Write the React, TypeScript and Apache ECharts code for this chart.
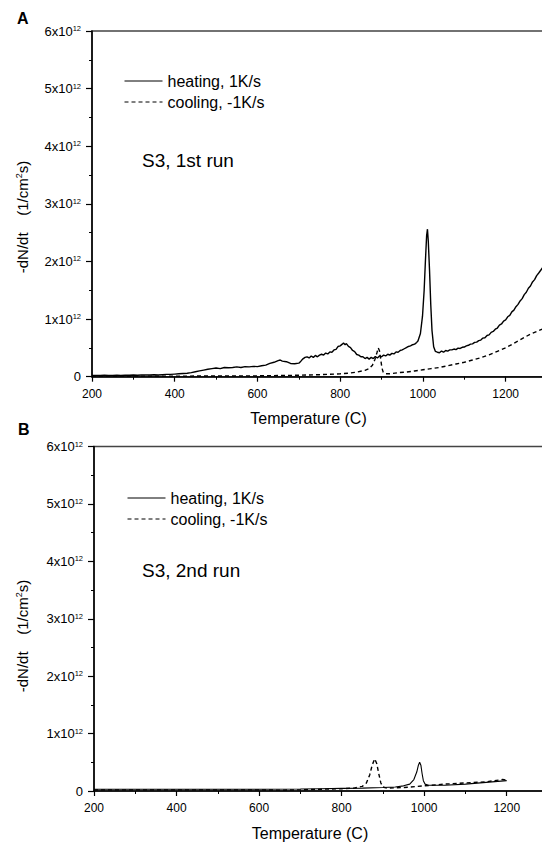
import React, { useEffect, useRef } from "react";
import * as echarts from "echarts";

// Panel A (1st run), values in units of 10^12 1/(cm^2 s)
const heatA_T = [200,210,220,230,240,250,260,270,280,290,300,310,320,330,340,350,360,370,380,390,400,410,420,430,440,450,460,470,480,490,500,510,520,530,540,550,560,570,580,590,600,610,620,630,640,650,655,660,670,680,690,700,705,710,715,720,725,730,735,740,745,750,755,760,765,770,775,780,785,790,795,800,805,808,812,815,820,825,830,835,840,845,850,855,860,865,870,875,880,885,890,895,900,905,910,915,920,925,930,935,940,945,950,955,960,965,970,975,980,985,988,994,999,1003,1006,1009,1011,1013,1016,1019,1022,1026,1030,1035,1040,1045,1050,1055,1060,1065,1070,1075,1080,1085,1090,1095,1100,1105,1110,1115,1120,1125,1130,1135,1140,1145,1150,1155,1160,1165,1170,1175,1180,1185,1190,1195,1200,1205,1210,1215,1220,1225,1230,1235,1240,1245,1250,1255,1260,1265,1270,1275,1280,1290,1300];
const heatA_V = [0.02,0.02,0.02,0.025,0.02,0.02,0.025,0.02,0.025,0.025,0.03,0.025,0.03,0.03,0.03,0.035,0.03,0.035,0.04,0.04,0.045,0.05,0.055,0.06,0.07,0.085,0.1,0.115,0.13,0.14,0.15,0.14,0.16,0.155,0.16,0.17,0.16,0.175,0.17,0.18,0.175,0.19,0.2,0.23,0.25,0.28,0.29,0.27,0.26,0.23,0.225,0.235,0.27,0.31,0.335,0.345,0.325,0.36,0.335,0.37,0.345,0.375,0.39,0.375,0.41,0.395,0.43,0.425,0.465,0.475,0.525,0.535,0.565,0.585,0.555,0.575,0.525,0.505,0.455,0.435,0.385,0.375,0.345,0.345,0.315,0.335,0.305,0.335,0.315,0.35,0.325,0.36,0.345,0.375,0.36,0.39,0.375,0.405,0.395,0.43,0.425,0.455,0.465,0.485,0.505,0.525,0.535,0.555,0.565,0.595,0.62,0.75,1.05,1.5,2.0,2.45,2.56,2.35,1.85,1.25,0.8,0.52,0.44,0.425,0.415,0.445,0.425,0.455,0.445,0.465,0.465,0.48,0.47,0.495,0.49,0.51,0.515,0.535,0.545,0.565,0.57,0.595,0.6,0.625,0.635,0.67,0.675,0.715,0.725,0.77,0.785,0.825,0.845,0.895,0.915,0.965,0.985,1.04,1.065,1.125,1.155,1.215,1.255,1.315,1.355,1.425,1.465,1.535,1.575,1.645,1.685,1.755,1.8,1.9,2.0];

const coolA_T = [200,300,400,500,600,650,700,750,800,820,840,860,870,878,884,889,892,895,898,901,904,910,920,940,960,980,1000,1020,1040,1060,1080,1100,1120,1140,1160,1180,1200,1220,1240,1260,1280,1300];
const coolA_V = [0.01,0.01,0.01,0.012,0.015,0.02,0.025,0.035,0.05,0.06,0.08,0.11,0.14,0.2,0.3,0.42,0.5,0.45,0.3,0.15,0.08,0.05,0.05,0.07,0.08,0.1,0.12,0.14,0.16,0.19,0.22,0.25,0.29,0.33,0.38,0.44,0.5,0.58,0.66,0.74,0.8,0.86];

// Panel B (2nd run)
const heatB_T = [200,300,400,500,600,700,750,800,850,900,930,950,965,975,982,986,989,992,995,998,1002,1010,1050,1100,1150,1200];
const heatB_V = [0.03,0.03,0.03,0.03,0.03,0.035,0.04,0.045,0.05,0.06,0.07,0.09,0.12,0.2,0.33,0.45,0.5,0.45,0.3,0.18,0.12,0.1,0.1,0.12,0.15,0.18];

const coolB_T = [200,300,400,500,600,650,700,750,800,830,850,860,868,874,880,885,890,895,900,910,950,1000,1050,1100,1150,1190,1200];
const coolB_V = [0.02,0.02,0.02,0.02,0.02,0.015,0.02,0.03,0.04,0.05,0.08,0.14,0.28,0.45,0.56,0.48,0.3,0.14,0.07,0.05,0.06,0.09,0.12,0.14,0.16,0.2,0.19];

const seriesNames = ["heating, 1K/s", "cooling, -1K/s"];
const runLabels = ["S3, 1st run", "S3, 2nd run"];
const panelLetters = ["A", "B"];
const yNameText = "-dN/dt    (1/cm{sup|2}s)";
const xNameText = "Temperature (C)";

const FONT = "'Liberation Sans', Arial, sans-serif";

const zip = (t: number[], v: number[]) => t.map((x, i) => [x, v[i]]);

export default function App() {
  const ref = useRef<HTMLDivElement>(null);
  useEffect(() => {
    if (!ref.current) return;
    const chart = echarts.init(ref.current, null, { renderer: "svg" });
    const W = 560;
    const grids = [
      { left: 92, right: W - 547, top: 31, height: 345.7 },
      { left: 94, right: W - 548, top: 446.5, height: 344.5 },
    ];
    const xAxisFor = (gi: number) => ({
      type: "value",
      gridIndex: gi,
      min: 200,
      max: 1300,
      interval: 200,
      name: xNameText,
      nameLocation: "middle",
      nameGap: 34,
      nameTextStyle: { fontFamily: FONT, fontSize: 16, color: "#000", padding: [0, 22, 0, 0] },
      axisLine: { show: true, lineStyle: { color: "#000", width: 1.5 } },
      axisTick: { show: true, inside: false, length: 5, lineStyle: { color: "#000", width: 1.2 } },
      minorTick: { show: true, splitNumber: 2, length: 3, lineStyle: { color: "#000", width: 1 } },
      splitLine: { show: false },
      axisLabel: {
        fontFamily: FONT,
        fontSize: 12,
        color: "#000",
        margin: 11,
        showMaxLabel: false,
        formatter: (v: number) => String(v),
      },
    });
    const yAxisFor = (gi: number) => ({
      type: "value",
      gridIndex: gi,
      min: 0,
      max: 6,
      interval: 1,
      axisLine: { show: true, lineStyle: { color: "#000", width: 1.5 } },
      axisTick: { show: true, inside: false, length: 6, lineStyle: { color: "#000", width: 1.2 } },
      minorTick: { show: true, splitNumber: 2, length: 3, lineStyle: { color: "#000", width: 1 } },
      splitLine: { show: false },
      axisLabel: {
        fontFamily: FONT,
        fontSize: 13,
        color: "#000",
        margin: 11,
        formatter: (v: number) => (v === 0 ? "0" : `${v}x10{sup|12}`),
        rich: {
          sup: { fontSize: 7.5, fontFamily: FONT, color: "#000", verticalAlign: "top", lineHeight: 13, padding: [0, 0, 5, 0] },
        },
      },
    });
    const lineSeries = (name: string, data: number[][], gi: number, dashed: boolean, width: number) => ({
      type: "line",
      name,
      xAxisIndex: gi,
      yAxisIndex: gi,
      data,
      symbol: "none",
      showSymbol: false,
      clip: true,
      lineStyle: { color: "#000", width, type: dashed ? [4, 3] : "solid" },
      itemStyle: { color: "#000" },
    });
    const legendFor = (left: number, top: number) => ({
      orient: "vertical",
      left,
      top,
      padding: 0,
      itemWidth: 38,
      itemHeight: 12,
      itemGap: 3,
      data: seriesNames,
      selectedMode: false,
      itemStyle: { opacity: 0 },
      lineStyle: { width: 1 },
      textStyle: { fontFamily: FONT, fontSize: 16, color: "#000", lineHeight: 18 },
    });
    const textEl = (text: string, x: number, y: number, size: number, bold = false) => ({
      type: "text",
      x,
      y,
      style: {
        text,
        fontFamily: FONT,
        fontSize: size,
        fontWeight: bold ? "bold" : "normal",
        fill: "#000",
        align: "left",
        verticalAlign: "middle",
      },
    });
    const yNameEl = (x: number, y: number) => ({
      type: "text",
      x,
      y,
      rotation: Math.PI / 2,
      style: {
        text: yNameText,
        fontFamily: FONT,
        fontSize: 15,
        fill: "#000",
        align: "center",
        verticalAlign: "middle",
        rich: {
          sup: { fontSize: 9, fontFamily: FONT, fill: "#000", verticalAlign: "top", lineHeight: 15, padding: [0, 0, 6, 0] },
        },
      },
    });
    chart.setOption({
      animation: false,
      backgroundColor: "#fff",
      grid: grids.map((g) => ({ ...g, show: true, borderColor: "#444", borderWidth: 1.5, backgroundColor: "transparent" })),
      xAxis: [xAxisFor(0), xAxisFor(1)],
      yAxis: [yAxisFor(0), yAxisFor(1)],
      legend: [legendFor(124, 72), legendFor(127, 489)],
      series: [
        lineSeries(seriesNames[0], zip(heatA_T, heatA_V), 0, false, 1.4),
        lineSeries(seriesNames[1], zip(coolA_T, coolA_V), 0, true, 1.4),
        lineSeries(seriesNames[0], zip(heatB_T, heatB_V), 1, false, 1.1),
        lineSeries(seriesNames[1], zip(coolB_T, coolB_V), 1, true, 1.4),
      ],
      graphic: [
        textEl(panelLetters[0], 17, 18, 16, true),
        textEl(panelLetters[1], 18, 429, 16, true),
        textEl(runLabels[0], 142, 160, 19),
        textEl(runLabels[1], 142, 570, 19),
        yNameEl(22, 217),
        yNameEl(22, 636),
      ],
    });
    return () => chart.dispose();
  }, []);
  return (
    <div style={{ position: "fixed", left: 0, top: 0, width: 542, height: 846, overflow: "hidden", background: "#fff" }}>
      <div ref={ref} style={{ width: 560, height: 846 }} />
    </div>
  );
}
